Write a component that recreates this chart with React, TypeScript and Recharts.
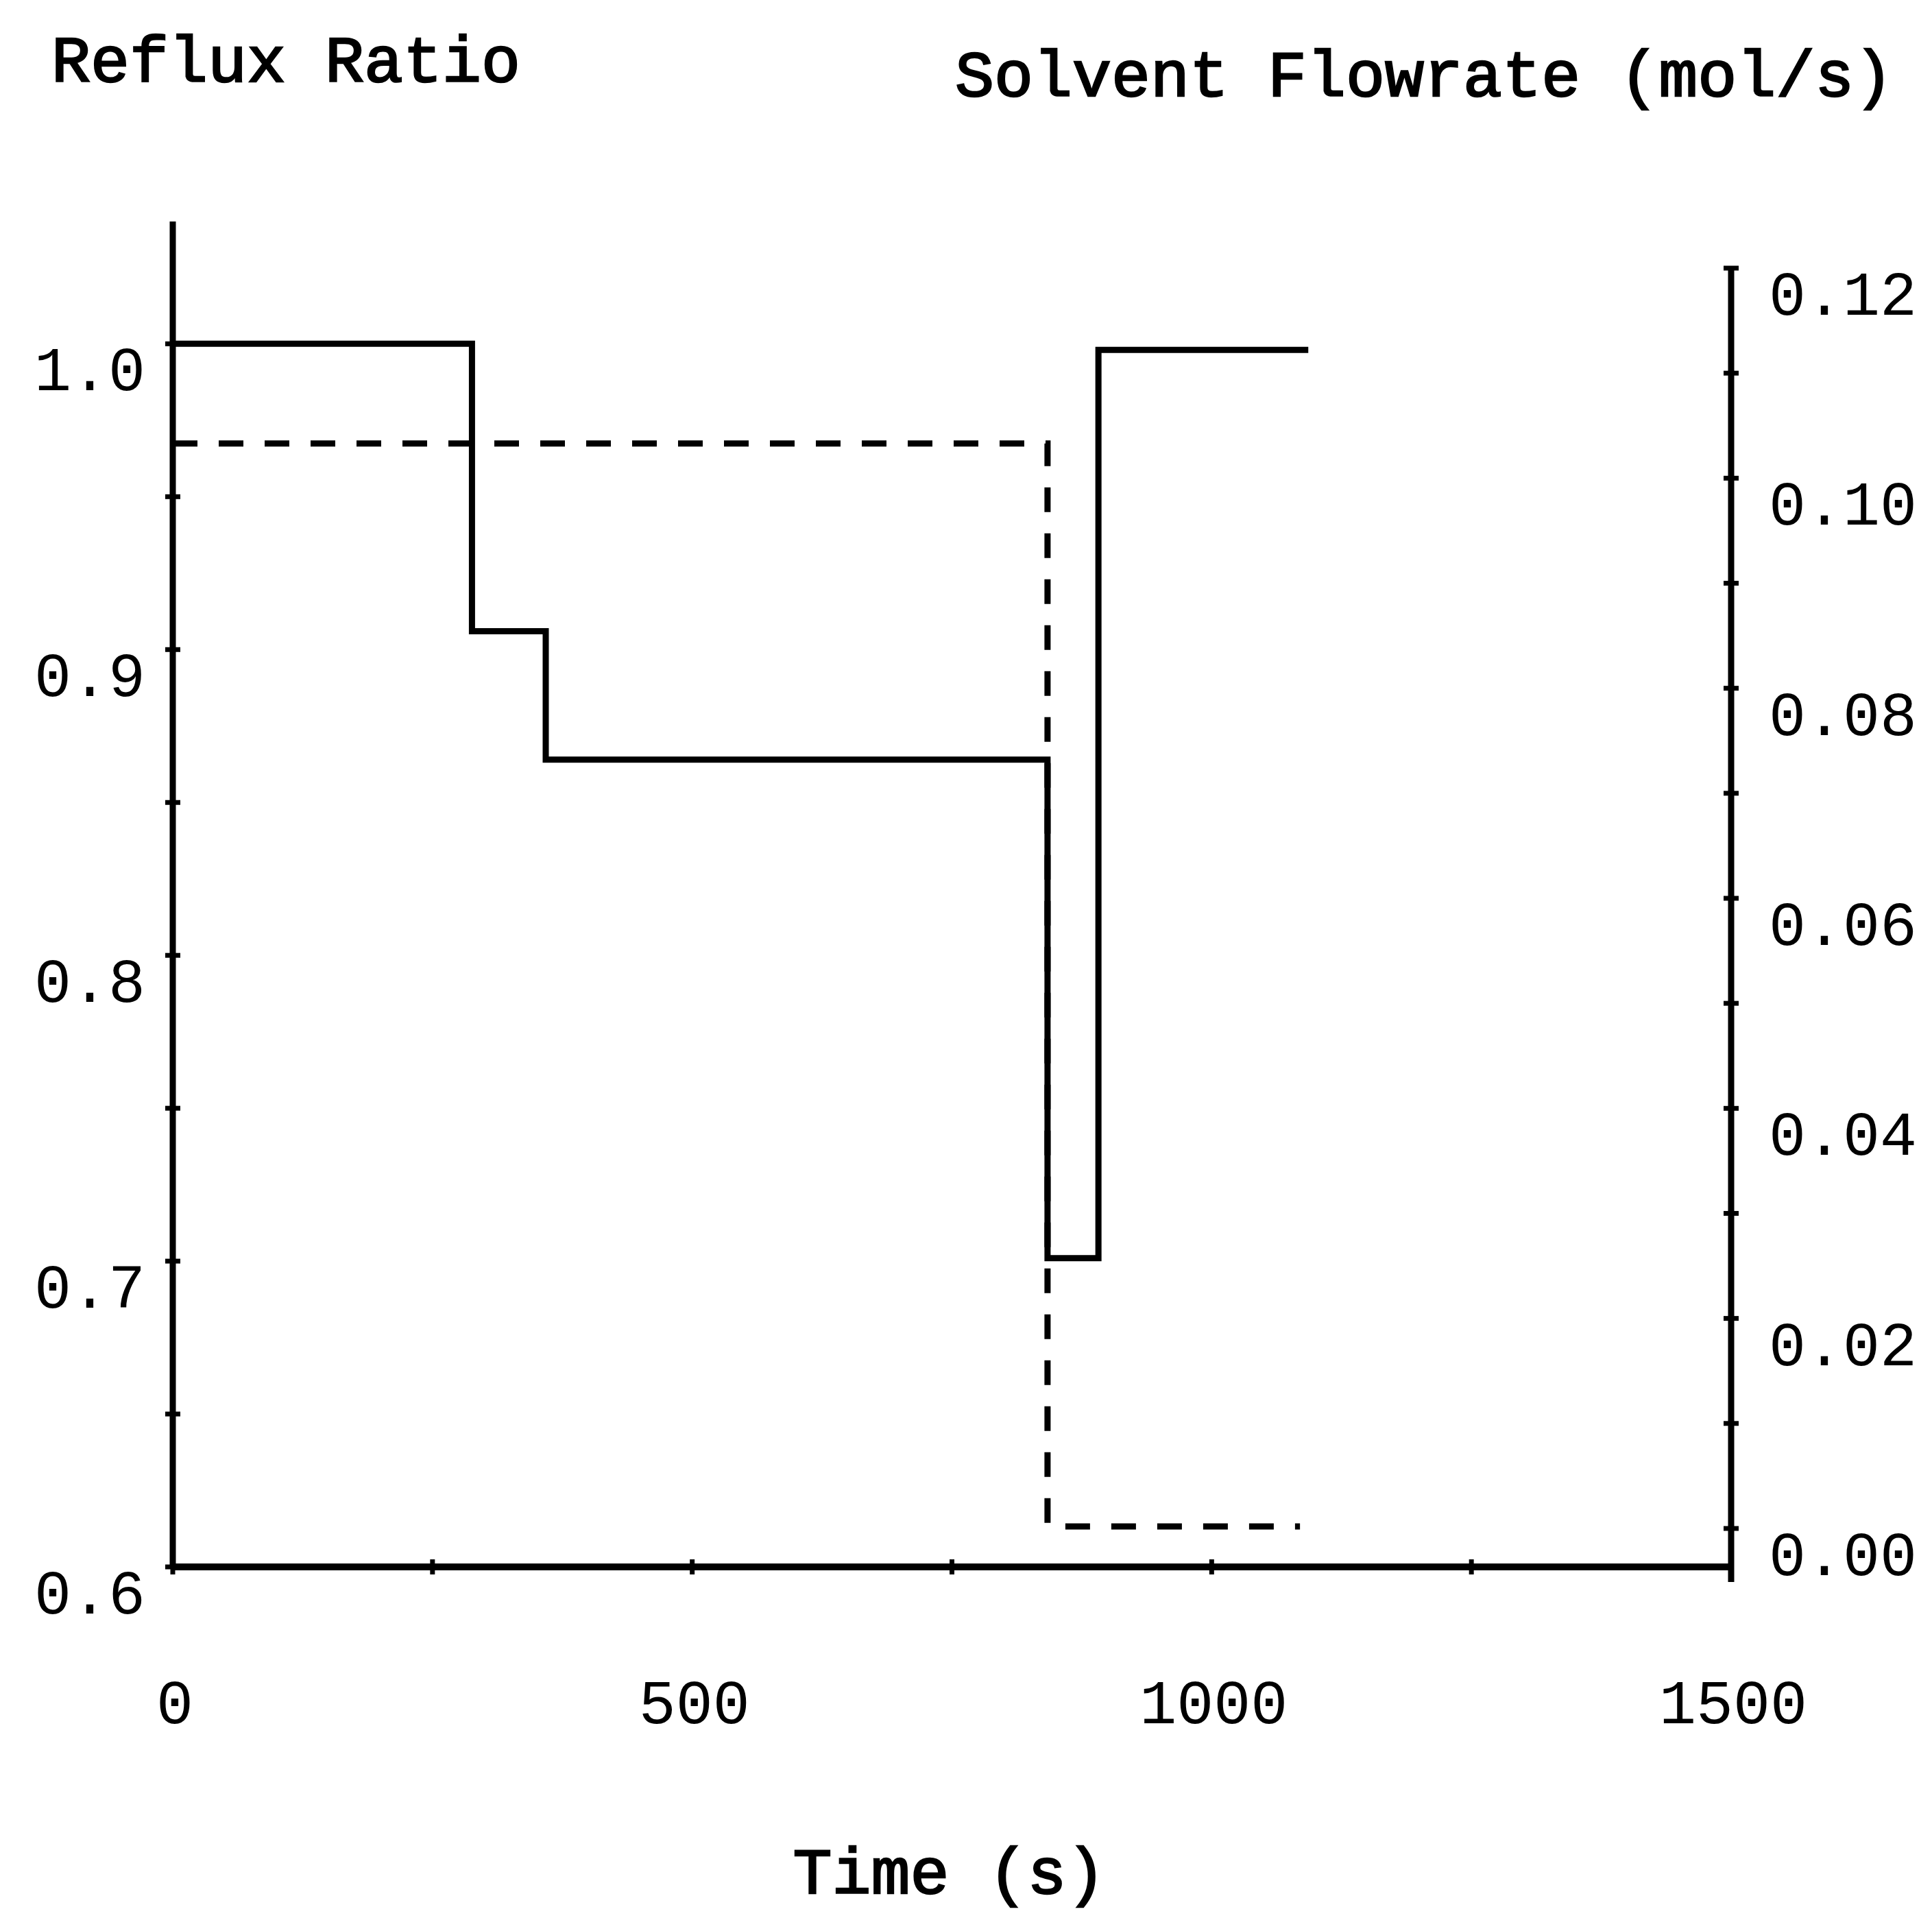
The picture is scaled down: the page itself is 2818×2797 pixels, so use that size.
import { LineChart, Line, XAxis, YAxis, ReferenceLine } from 'recharts';

// reflux ratio steps (left axis), values read at each switch time
const refluxTime = [0, 288, 359, 842, 891, 1093];
const refluxRatio = [1.0, 0.906, 0.864, 0.701, 0.998, 0.998];

// solvent flowrate steps (right axis, mol/s)
const solventTime = [0, 842, 1085];
const solventFlow = [0.1033, 0.0002, 0.0002];

const timeTicks = [0, 250, 500, 750, 1000, 1250, 1500];
const timeLabels = [0, 500, 1000, 1500];
const refluxTicks = [0.6, 0.65, 0.7, 0.75, 0.8, 0.85, 0.9, 0.95, 1.0];
const refluxLabels = [0.6, 0.7, 0.8, 0.9, 1.0];
const flowTicks = [0, 0.01, 0.02, 0.03, 0.04, 0.05, 0.06, 0.07, 0.08, 0.09, 0.1, 0.11, 0.12];
const flowLabels = [0, 0.02, 0.04, 0.06, 0.08, 0.1, 0.12];

const refluxData = refluxTime.map((t, i) => ({ t, r: refluxRatio[i] }));
const solventData = solventTime.map((t, i) => ({ t, f: solventFlow[i] }));

const FONT = '"Liberation Mono", "DejaVu Sans Mono", monospace';
const TICK_FS = 90;
const TITLE_FS = 95;

const has = (list: number[], v: number) => list.some((l) => Math.abs(l - v) < 1e-9);

function TimeTick({ x, y, payload }: any) {
  const v = payload.value;
  return (
    <g>
      <line x1={x} x2={x} y1={y - 11} y2={y + 11} stroke="#000" strokeWidth={7} />
      {has(timeLabels, v) && (
        <text x={x + 3} y={y + 228} textAnchor="middle" fontFamily={FONT} fontSize={TICK_FS} fill="#000">
          {v}
        </text>
      )}
    </g>
  );
}

function RefluxTick({ x, y, payload }: any) {
  const v = payload.value;
  return (
    <g>
      <line x1={x - 11} x2={x + 11} y1={y} y2={y} stroke="#000" strokeWidth={7} />
      {has(refluxLabels, v) && (
        <text x={x - 40} y={y + 68} textAnchor="end" fontFamily={FONT} fontSize={TICK_FS} fill="#000">
          {v.toFixed(1)}
        </text>
      )}
    </g>
  );
}

function FlowTick({ x, y, payload }: any) {
  const v = payload.value;
  return (
    <g>
      <line x1={x - 11} x2={x + 11} y1={y} y2={y} stroke="#000" strokeWidth={7} />
      {has(flowLabels, v) && (
        <text x={x + 55} y={y + 68} textAnchor="start" fontFamily={FONT} fontSize={TICK_FS} fill="#000">
          {v.toFixed(2)}
        </text>
      )}
    </g>
  );
}

const title = (text: string, dx: number, dy: number, anchor: 'start' | 'middle') =>
  ({ viewBox }: any) => (
    <text
      x={(anchor === 'middle' ? viewBox.x + viewBox.width / 2 : viewBox.x) + dx}
      y={viewBox.y + dy}
      textAnchor={anchor}
      fontFamily={FONT}
      fontSize={TITLE_FS}
      fill="#000"
      stroke="#000"
      strokeWidth={2.5}
    >
      {text}
    </text>
  );

export default function App() {
  return (
    <div style={{ position: 'absolute', left: 0, top: 0, background: '#fff' }}>
      <LineChart
        width={2818}
        height={2797}
        margin={{ top: 323, right: 233, bottom: 452, left: 192 }}
      >
        <XAxis
          type="number"
          dataKey="t"
          domain={[0, 1500]}
          ticks={timeTicks}
          interval={0}
          height={60}
          tickSize={0}
          tickMargin={0}
          tickLine={false}
          axisLine={{ stroke: '#000', strokeWidth: 10 }}
          tick={<TimeTick />}
          allowDataOverflow
          label={{ value: 'Time (s)', content: title('Time (s)', -4, 476, 'middle') }}
        />
        <YAxis
          yAxisId="left"
          type="number"
          domain={[0.6, 1.04]}
          ticks={refluxTicks}
          interval={0}
          width={60}
          tickSize={0}
          tickMargin={0}
          tickLine={false}
          axisLine={{ stroke: '#000', strokeWidth: 9 }}
          tick={<RefluxTick />}
          allowDataOverflow
          label={{ value: 'Reflux Ratio', content: title('Reflux Ratio', -117, -204, 'start') }}
        />
        <YAxis
          yAxisId="right"
          orientation="right"
          type="number"
          domain={[-0.00366, 0.12444]}
          ticks={flowTicks}
          interval={0}
          width={60}
          tickSize={0}
          tickMargin={0}
          tickLine={false}
          axisLine={false}
          tick={<FlowTick />}
          allowDataOverflow
          label={{
            value: 'Solvent Flowrate (mol/s)',
            content: title('Solvent Flowrate (mol/s)', -1132, -183, 'start'),
          }}
        />
        <ReferenceLine
          yAxisId="right"
          segment={[
            { x: 1500, y: 0.12 },
            { x: 1500, y: -0.0051 },
          ]}
          stroke="#000"
          strokeWidth={9}
          ifOverflow="visible"
        />
        <Line
          yAxisId="left"
          data={refluxData}
          dataKey="r"
          type="stepAfter"
          stroke="#000"
          strokeWidth={9}
          strokeLinejoin="miter"
          dot={false}
          activeDot={false}
          isAnimationActive={false}
        />
        <Line
          yAxisId="right"
          data={solventData}
          dataKey="f"
          type="stepAfter"
          stroke="#000"
          strokeWidth={9}
          strokeDasharray="36 31"
          strokeLinejoin="miter"
          dot={false}
          activeDot={false}
          isAnimationActive={false}
        />
      </LineChart>
    </div>
  );
}
